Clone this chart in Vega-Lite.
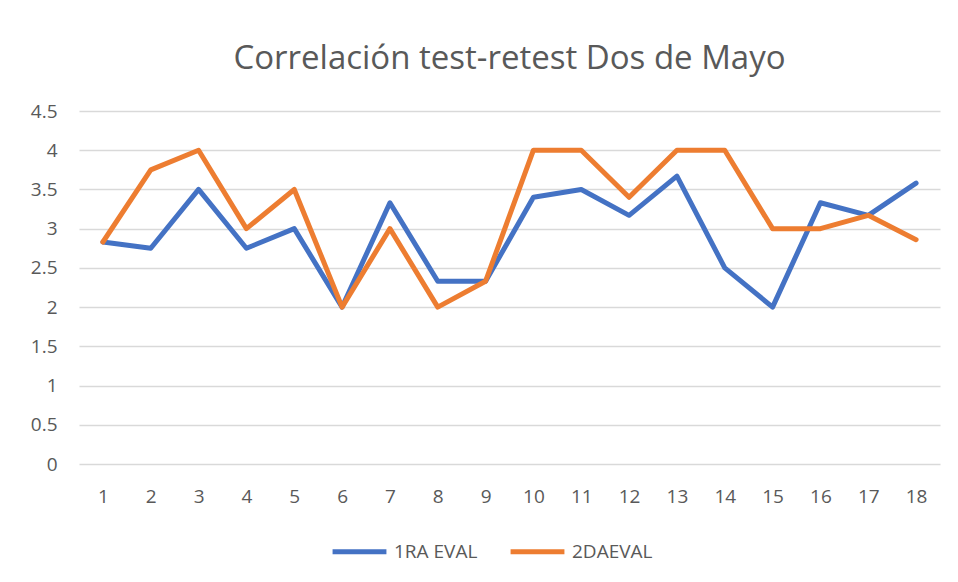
{
  "$schema": "https://vega.github.io/schema/vega-lite/v6.json",
  "autosize": "none",
  "width": 861,
  "height": 353,
  "padding": {"left": 79, "top": 111, "right": 18, "bottom": 118},
  "background": "white",
  "title": {
    "text": "Correlación test-retest Dos de Mayo",
    "font": "Open Sans",
    "fontSize": 33,
    "fontWeight": "normal",
    "color": "#595959",
    "offset": 26,
    "anchor": "middle"
  },
  "data": {
    "values": [
      {"punto": 1, "serie": "1RA EVAL", "valor": 2.83},
      {"punto": 2, "serie": "1RA EVAL", "valor": 2.75},
      {"punto": 3, "serie": "1RA EVAL", "valor": 3.5},
      {"punto": 4, "serie": "1RA EVAL", "valor": 2.75},
      {"punto": 5, "serie": "1RA EVAL", "valor": 3.0},
      {"punto": 6, "serie": "1RA EVAL", "valor": 2.0},
      {"punto": 7, "serie": "1RA EVAL", "valor": 3.33},
      {"punto": 8, "serie": "1RA EVAL", "valor": 2.33},
      {"punto": 9, "serie": "1RA EVAL", "valor": 2.33},
      {"punto": 10, "serie": "1RA EVAL", "valor": 3.4},
      {"punto": 11, "serie": "1RA EVAL", "valor": 3.5},
      {"punto": 12, "serie": "1RA EVAL", "valor": 3.17},
      {"punto": 13, "serie": "1RA EVAL", "valor": 3.67},
      {"punto": 14, "serie": "1RA EVAL", "valor": 2.5},
      {"punto": 15, "serie": "1RA EVAL", "valor": 2.0},
      {"punto": 16, "serie": "1RA EVAL", "valor": 3.33},
      {"punto": 17, "serie": "1RA EVAL", "valor": 3.17},
      {"punto": 18, "serie": "1RA EVAL", "valor": 3.58},
      {"punto": 1, "serie": "2DAEVAL", "valor": 2.83},
      {"punto": 2, "serie": "2DAEVAL", "valor": 3.75},
      {"punto": 3, "serie": "2DAEVAL", "valor": 4.0},
      {"punto": 4, "serie": "2DAEVAL", "valor": 3.0},
      {"punto": 5, "serie": "2DAEVAL", "valor": 3.5},
      {"punto": 6, "serie": "2DAEVAL", "valor": 2.0},
      {"punto": 7, "serie": "2DAEVAL", "valor": 3.0},
      {"punto": 8, "serie": "2DAEVAL", "valor": 2.0},
      {"punto": 9, "serie": "2DAEVAL", "valor": 2.33},
      {"punto": 10, "serie": "2DAEVAL", "valor": 4.0},
      {"punto": 11, "serie": "2DAEVAL", "valor": 4.0},
      {"punto": 12, "serie": "2DAEVAL", "valor": 3.4},
      {"punto": 13, "serie": "2DAEVAL", "valor": 4.0},
      {"punto": 14, "serie": "2DAEVAL", "valor": 4.0},
      {"punto": 15, "serie": "2DAEVAL", "valor": 3.0},
      {"punto": 16, "serie": "2DAEVAL", "valor": 3.0},
      {"punto": 17, "serie": "2DAEVAL", "valor": 3.17},
      {"punto": 18, "serie": "2DAEVAL", "valor": 2.86}
    ]
  },
  "mark": {"type": "line", "strokeWidth": 5, "strokeCap": "round", "strokeJoin": "round"},
  "encoding": {
    "x": {
      "field": "punto",
      "type": "ordinal",
      "scale": {"type": "point", "padding": 0.5},
      "axis": {
        "title": null,
        "labelAngle": 0,
        "domain": false,
        "ticks": false,
        "grid": false,
        "labelPadding": 23,
        "labelFont": "Open Sans",
        "labelFontSize": 19,
        "labelColor": "#595959"
      }
    },
    "y": {
      "field": "valor",
      "type": "quantitative",
      "scale": {"domain": [0, 4.5], "nice": false},
      "axis": {
        "title": null,
        "values": [0, 0.5, 1, 1.5, 2, 2.5, 3, 3.5, 4, 4.5],
        "format": "~g",
        "domain": false,
        "ticks": false,
        "gridColor": "#D9D9D9",
        "gridWidth": 1.3,
        "labelPadding": 22,
        "labelFont": "Open Sans",
        "labelFontSize": 19,
        "labelColor": "#595959"
      }
    },
    "color": {
      "field": "serie",
      "type": "nominal",
      "scale": {"domain": ["1RA EVAL", "2DAEVAL"], "range": ["#4472C4", "#ED7D31"]},
      "legend": {
        "orient": "none",
        "legendX": 251,
        "legendY": 411,
        "direction": "horizontal",
        "title": null,
        "symbolType": "stroke",
        "symbolStrokeWidth": 5,
        "symbolSize": 2900,
        "labelOffset": 5,
        "columnPadding": 22,
        "labelFont": "Open Sans",
        "labelFontSize": 19,
        "labelColor": "#595959"
      }
    }
  },
  "config": {"view": {"stroke": null}}
}
